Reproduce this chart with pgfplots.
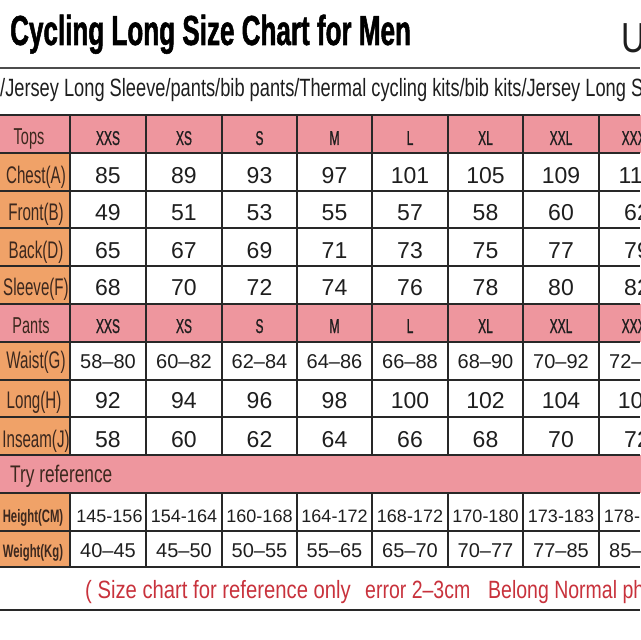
\documentclass[border=0pt]{standalone}
\usepackage{fontspec}
\setmainfont{Liberation Sans}
\newfontfamily\titlefont[FakeStretch=0.62,FakeBold=1.2]{Liberation Sans}
\newfontfamily\hdrfont[FakeStretch=0.6,FakeBold=0.8]{Liberation Sans}
\newfontfamily\labfont[FakeStretch=0.63]{Liberation Sans}
\newfontfamily\linefont[FakeStretch=0.73]{Liberation Sans}
\newfontfamily\notefont[FakeStretch=0.78]{Liberation Sans}
\newfontfamily\unitfont[FakeStretch=0.8]{Liberation Sans}
\usepackage{pgfplots}
\pgfplotsset{compat=1.18}

\definecolor{hdrpink}{RGB}{238,150,158}
\definecolor{laborange}{RGB}{240,162,104}
\definecolor{gridc}{RGB}{40,40,40}
\definecolor{inkc}{RGB}{30,30,30}
\definecolor{labink}{RGB}{60,40,30}
\definecolor{notered}{RGB}{200,50,60}

\newcommand\numfont{\fontsize{23bp}{26bp}\selectfont}
\newcommand\rangefont{\fontsize{20bp}{23bp}\selectfont}
\newcommand\smallrange{\fontsize{18bp}{21bp}\selectfont}
\newcommand\sizefont{\hdrfont\fontsize{20bp}{23bp}\selectfont}
\newcommand\rowfont{\labfont\fontsize{24bp}{27bp}\selectfont}
\newcommand\secfont{\labfont\fontsize{23bp}{26bp}\selectfont}
\newcommand\refrowfont{\labfont\bfseries\fontsize{18bp}{21bp}\selectfont}

\begin{document}
\begin{tikzpicture}
\begin{axis}[
  name=ax, at={(0,0)}, anchor=south west,
  width=640bp, height=640bp, scale only axis,
  xmin=0, xmax=640, ymin=0, ymax=640, y dir=reverse,
  hide axis, clip=false,
  cellrow/.style={draw=none, no markers, nodes near coords,
    point meta=explicit symbolic,
    every node near coord/.append style={anchor=base, inner sep=0pt, text=inkc, font=#1}},
  labrow/.style={draw=none, no markers, nodes near coords,
    point meta=explicit symbolic,
    every node near coord/.append style={anchor=base, inner sep=0pt, text=labink, font=#1}},
]
% backgrounds
\fill[hdrpink] (0,115) rectangle (680,153);
\fill[hdrpink] (0,304) rectangle (680,342);
\fill[hdrpink] (0,455) rectangle (680,493);
\fill[laborange] (0,153) rectangle (70,304);
\fill[laborange] (0,342) rectangle (70,455);
\fill[laborange] (0,493) rectangle (70,567);

% rules
\draw[line width=2, gray!60!black] (0,68) -- (640,68);
\pgfplotsinvokeforeach{115,153,191,228,266,304,342,380,417,455,493,531,567}{
  \draw[line width=1.4, gridc] (0,#1) -- (640,#1);
}
\draw[line width=1.6, gridc] (0,610) -- (640,610);
\pgfplotsinvokeforeach{70,146,222,297,372,448,523,599}{
  \draw[line width=1.4, gridc] (#1,115) -- (#1,455);
  \draw[line width=1.4, gridc] (#1,493) -- (#1,567);
}

% headings
\node[anchor=base west, inner sep=0pt] at (10,45)
  {\titlefont\bfseries\fontsize{42bp}{46bp}\selectfont Cycling Long Size Chart for Men};
\node[anchor=base west, inner sep=0pt, text=inkc] at (621,53)
  {\unitfont\fontsize{42bp}{46bp}\selectfont Unit:cm};
\node[anchor=base west, inner sep=0pt, text=inkc] at (0,97)
  {\linefont\fontsize{25bp}{28bp}\selectfont /Jersey Long Sleeve/pants/bib pants/Thermal cycling kits/bib kits/Jersey Long Sleeve};

% tops
\addplot[labrow=\secfont] coordinates {(29,145) [Tops]};
\addplot[cellrow=\sizefont] coordinates {
  (108,145) [XXS] (184,145) [XS] (259.5,145) [S] (334.5,145) [M]
  (410,145) [L] (485.5,145) [XL] (561,145) [XXL] (637,145) [XXXL]};
\addplot[labrow=\rowfont] coordinates {
  (36,184) [Chest(A)] (36,220) [Front(B)] (36,258) [Back(D)] (36,295) [Sleeve(F)]};
\addplot[cellrow=\numfont] coordinates {
  (108,184) [85] (184,184) [89] (259.5,184) [93] (334.5,184) [97]
  (410,184) [101] (485.5,184) [105] (561,184) [109] (637,184) [113]};
\addplot[cellrow=\numfont] coordinates {
  (108,220) [49] (184,220) [51] (259.5,220) [53] (334.5,220) [55]
  (410,220) [57] (485.5,220) [58] (561,220) [60] (637,220) [62]};
\addplot[cellrow=\numfont] coordinates {
  (108,258) [65] (184,258) [67] (259.5,258) [69] (334.5,258) [71]
  (410,258) [73] (485.5,258) [75] (561,258) [77] (637,258) [79]};
\addplot[cellrow=\numfont] coordinates {
  (108,295) [68] (184,295) [70] (259.5,295) [72] (334.5,295) [74]
  (410,295) [76] (485.5,295) [78] (561,295) [80] (637,295) [82]};

% pants
\addplot[labrow=\secfont] coordinates {(31,333) [Pants]};
\addplot[cellrow=\sizefont] coordinates {
  (108,333) [XXS] (184,333) [XS] (259.5,333) [S] (334.5,333) [M]
  (410,333) [L] (485.5,333) [XL] (561,333) [XXL] (637,333) [XXXL]};
\addplot[labrow=\rowfont] coordinates {
  (36,368) [Waist(G)] (34,408) [Long(H)] (36,447) [Inseam(J)]};
\addplot[cellrow=\rangefont] coordinates {
  (108,368) [58–80] (184,368) [60–82] (259.5,368) [62–84] (334.5,368) [64–86]
  (410,368) [66–88] (485.5,368) [68–90] (561,368) [70–92] (637,368) [72–94]};
\addplot[cellrow=\numfont] coordinates {
  (108,408) [92] (184,408) [94] (259.5,408) [96] (334.5,408) [98]
  (410,408) [100] (485.5,408) [102] (561,408) [104] (637,408) [106]};
\addplot[cellrow=\numfont] coordinates {
  (108,447) [58] (184,447) [60] (259.5,447) [62] (334.5,447) [64]
  (410,447) [66] (485.5,447) [68] (561,447) [70] (637,447) [72]};

% try reference
\node[anchor=base west, inner sep=0pt, text=labink] at (10,482)
  {\labfont\fontsize{24bp}{27bp}\selectfont\addfontfeature{FakeStretch=0.72}Try reference};
\addplot[labrow=\refrowfont] coordinates {(33,522) [Height(CM)] (33,557) [Weight(Kg)]};
\addplot[cellrow=\smallrange] coordinates {
  (109.5,522) [145-156] (184,522) [154-164] (259.5,522) [160-168] (334.5,522) [164-172]
  (410,522) [168-172] (485.5,522) [170-180] (561,522) [173-183] (637,522) [178-188]};
\addplot[cellrow=\rangefont] coordinates {
  (108,557) [40–45] (184,557) [45–50] (259.5,557) [50–55] (334.5,557) [55–65]
  (410,557) [65–70] (485.5,557) [70–77] (561,557) [77–85] (637,557) [85–95]};

% footnote
\node[anchor=base west, inner sep=0pt, text=notered] at (85,598)
  {\notefont\fontsize{25bp}{28bp}\selectfont\addfontfeature{FakeStretch=0.81}( Size chart for reference only};
\node[anchor=base west, inner sep=0pt, text=notered] at (365,598)
  {\notefont\fontsize{25bp}{28bp}\selectfont error 2–3cm};
\node[anchor=base west, inner sep=0pt, text=notered] at (488,598)
  {\notefont\fontsize{25bp}{28bp}\selectfont Belong Normal phenomenon )};
\end{axis}
\pgfresetboundingbox
\useasboundingbox (ax.south west) rectangle (ax.north east);
\end{tikzpicture}
\end{document}
